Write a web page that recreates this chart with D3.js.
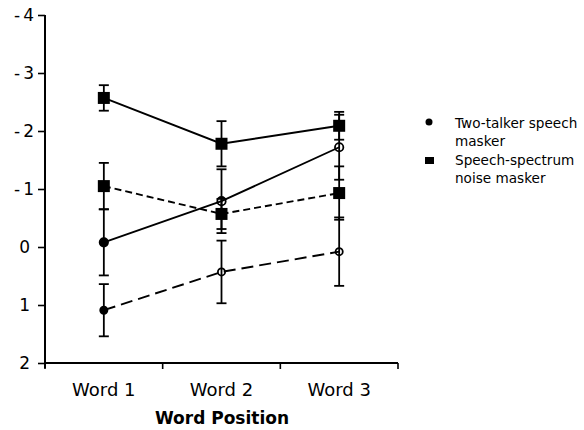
<!DOCTYPE html>
<html><head><meta charset="utf-8">
<script src="https://cdn.jsdelivr.net/npm/d3@7"></script>
<style>
body{margin:0;background:#fff;}
text{font-family:"DejaVu Sans",Verdana,sans-serif;fill:#000;}
</style></head>
<body><svg id="c" width="584" height="430"></svg>
<script>
const categories = ["Word 1", "Word 2", "Word 3"];
const yTickValues = [-4, -3, -2, -1, 0, 1, 2];
const yTickLabels = ["-4", "-3", "-2", "-1", "0", "1", "2"];
const legendLabels = [["Two-talker speech", "masker"], ["Speech-spectrum", "noise masker"]];
const xTitle = "Word Position";

// Speech-spectrum noise masker (squares)
const speechSolid = [-2.57, -1.78, -2.09];
const speechSolidErr = [0.22, 0.39, 0.24];
const speechDashed = [-1.05, -0.57, -0.93];
const speechDashedErr = [0.40, 0.26, 0.46];
// Two-talker speech masker (circles)
const talkerSolid = [-0.08, -0.79, -1.72];
const talkerSolidErr = [0.57, 0.55, 0.56];
const talkerDashed = [1.09, 0.43, 0.08];
const talkerDashedErr = [0.45, 0.54, 0.59];

const series = [
  {vals: talkerDashed, err: talkerDashedErr, marker: "circle", dash: "12,6", r: 3.6},
  {vals: talkerSolid, err: talkerSolidErr, marker: "circle", dash: null, r: 4.2},
  {vals: speechDashed, err: speechDashedErr, marker: "square", dash: "7,4"},
  {vals: speechSolid, err: speechSolidErr, marker: "square", dash: null}
];

const svg = d3.select("#c");
const x = d3.scaleBand().domain(categories).range([45, 398]).padding(0);
const y = d3.scaleLinear().domain([2, -4]).range([363, 15]);
const cx = c => x(c) + x.bandwidth() / 2;

// Y axis
const yAxis = svg.append("g").attr("transform", "translate(45,0)")
  .call(d3.axisLeft(y).tickValues(yTickValues).tickFormat((d, i) => yTickLabels[i]).tickSize(7).tickPadding(4));
yAxis.select(".domain").attr("d", "M0," + y(-4) + "V" + (y(2) + 5)).attr("stroke-width", 2);
yAxis.selectAll(".tick line").attr("stroke-width", 1.6);
yAxis.selectAll(".tick text").style("font-size", "17px").attr("letter-spacing", d => d < 0 ? "3px" : "0px")
  .attr("dx", d => d < 0 ? "3px" : "-4px");

// X axis
const xAxis = svg.append("g").attr("transform", "translate(0,363)");
xAxis.append("line").attr("x1", 45).attr("x2", 398).attr("y1", 0).attr("y2", 0).attr("stroke", "#000").attr("stroke-width", 2);
const bounds = categories.map(c => x(c) + x.bandwidth()).concat([x(categories[0])]);
xAxis.selectAll("line.tk").data(bounds).join("line").attr("class", "tk")
  .attr("x1", d => d).attr("x2", d => d).attr("y1", 0).attr("y2", 6).attr("stroke", "#000").attr("stroke-width", 1.6);
xAxis.selectAll("text.lab").data(categories).join("text").attr("class", "lab")
  .attr("x", d => cx(d)).attr("y", 33).attr("text-anchor", "middle").style("font-size", "18px").text(d => d);
svg.append("text").attr("x", 222).attr("y", 424).attr("text-anchor", "middle")
  .style("font-size", "17px").style("font-weight", "bold").text(xTitle);

const line = d3.line().x((d, i) => cx(categories[i])).y(d => y(d));

// lines
series.forEach(s => {
  svg.append("path").datum(s.vals).attr("d", line).attr("fill", "none").attr("stroke", "#000")
    .attr("stroke-width", 1.9).attr("stroke-dasharray", s.dash);
});
// error bars
series.forEach(s => {
  const g = svg.append("g").attr("stroke", "#000").attr("stroke-width", 1.8);
  s.vals.forEach((v, i) => {
    const px = cx(categories[i]);
    const top = y(v - s.err[i]), bot = y(v + s.err[i]);
    g.append("line").attr("x1", px).attr("x2", px).attr("y1", top).attr("y2", bot);
    g.append("line").attr("x1", px - 5).attr("x2", px + 5).attr("y1", top).attr("y2", top);
    g.append("line").attr("x1", px - 5).attr("x2", px + 5).attr("y1", bot).attr("y2", bot);
  });
});
// markers
series.forEach(s => {
  s.vals.forEach((v, i) => {
    const px = cx(categories[i]), py = y(v);
    if (s.marker === "square") {
      svg.append("rect").attr("x", px - 6).attr("y", py - 6).attr("width", 12).attr("height", 12).attr("fill", "#000");
    } else {
      svg.append("circle").attr("cx", px).attr("cy", py).attr("r", s.r)
        .attr("fill", i === 0 ? "#000" : "none").attr("stroke", "#000").attr("stroke-width", 1.8);
    }
  });
});

// legend
const lg = svg.append("g");
lg.append("circle").attr("cx", 429).attr("cy", 122).attr("r", 3.5).attr("fill", "#000");
lg.append("rect").attr("x", 425).attr("y", 157).attr("width", 9).attr("height", 7).attr("fill", "#000");
legendLabels.forEach((lines, k) => {
  lines.forEach((t, j) => {
    lg.append("text").attr("x", 455).attr("y", 128 + k * 37 + j * 18).style("font-size", "13.6px").text(t);
  });
});
</script></body></html>
